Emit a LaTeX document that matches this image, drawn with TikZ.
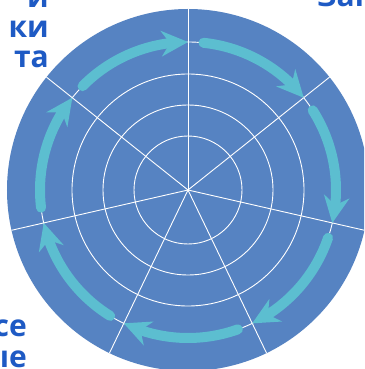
\documentclass[tikz,border=0pt]{standalone}
\usepackage{fontspec}
\setmainfont{Open Sans}
\usetikzlibrary{arrows.meta, bending}

\definecolor{wheelblue}{RGB}{86,131,194}
\definecolor{arrowcyan}{RGB}{92,190,208}
\definecolor{titleblue}{RGB}{30,90,196}

\begin{document}
\begin{tikzpicture}[
    x=1pt, y=1pt,
    gridline/.style={draw=white, line width=0.9pt},
    cyclearrow/.style={draw=arrowcyan, line width=10pt, line cap=round,
        -{Stealth[length=27pt, width=26pt, inset=9pt, line width=0pt]}},
    captxt/.style={font=\bfseries\fontsize{30}{30}\selectfont, text=titleblue, inner sep=0pt}
]

% ================= Frame =================
\clip (-188,-179) rectangle (176,190);

% ================= Wheel =================
\fill[wheelblue] (0,0) circle[radius=181];

% Rings
\foreach \r in {54, 85, 116, 148}
    \draw[gridline] (0,0) circle[radius=\r];

% Spokes (seven equal sectors)
\foreach \k [evaluate=\k as \a using 90-\k*360/7] in {0,...,6}
    \draw[gridline] (0,0) -- (\a:181);

% ================= Cycle arrows =================
\foreach \k [evaluate=\k as \a using 90-\k*360/7] in {0,...,6}
    \draw[cyclearrow] ({\a-6}:148) arc[start angle={\a-6}, end angle={\a-360/7}, radius=148];

% ================= Labels =================

% Top left
\node[captxt, anchor=base east] (tl1) at (-139,182) {и};
\node[captxt, anchor=base east] (tl2) at (-139,152) {ки};
\node[captxt, anchor=base east] (tl3) at (-139,122) {та};

% Top right
\node[captxt, anchor=base west] (tr1) at (129,183) {Зап};

% Bottom left
\node[captxt, anchor=base east] (bl1) at (-161,-146) {се};
\node[captxt, anchor=base east] (bl2) at (-161,-177) {ые};

\end{tikzpicture}
\end{document}
